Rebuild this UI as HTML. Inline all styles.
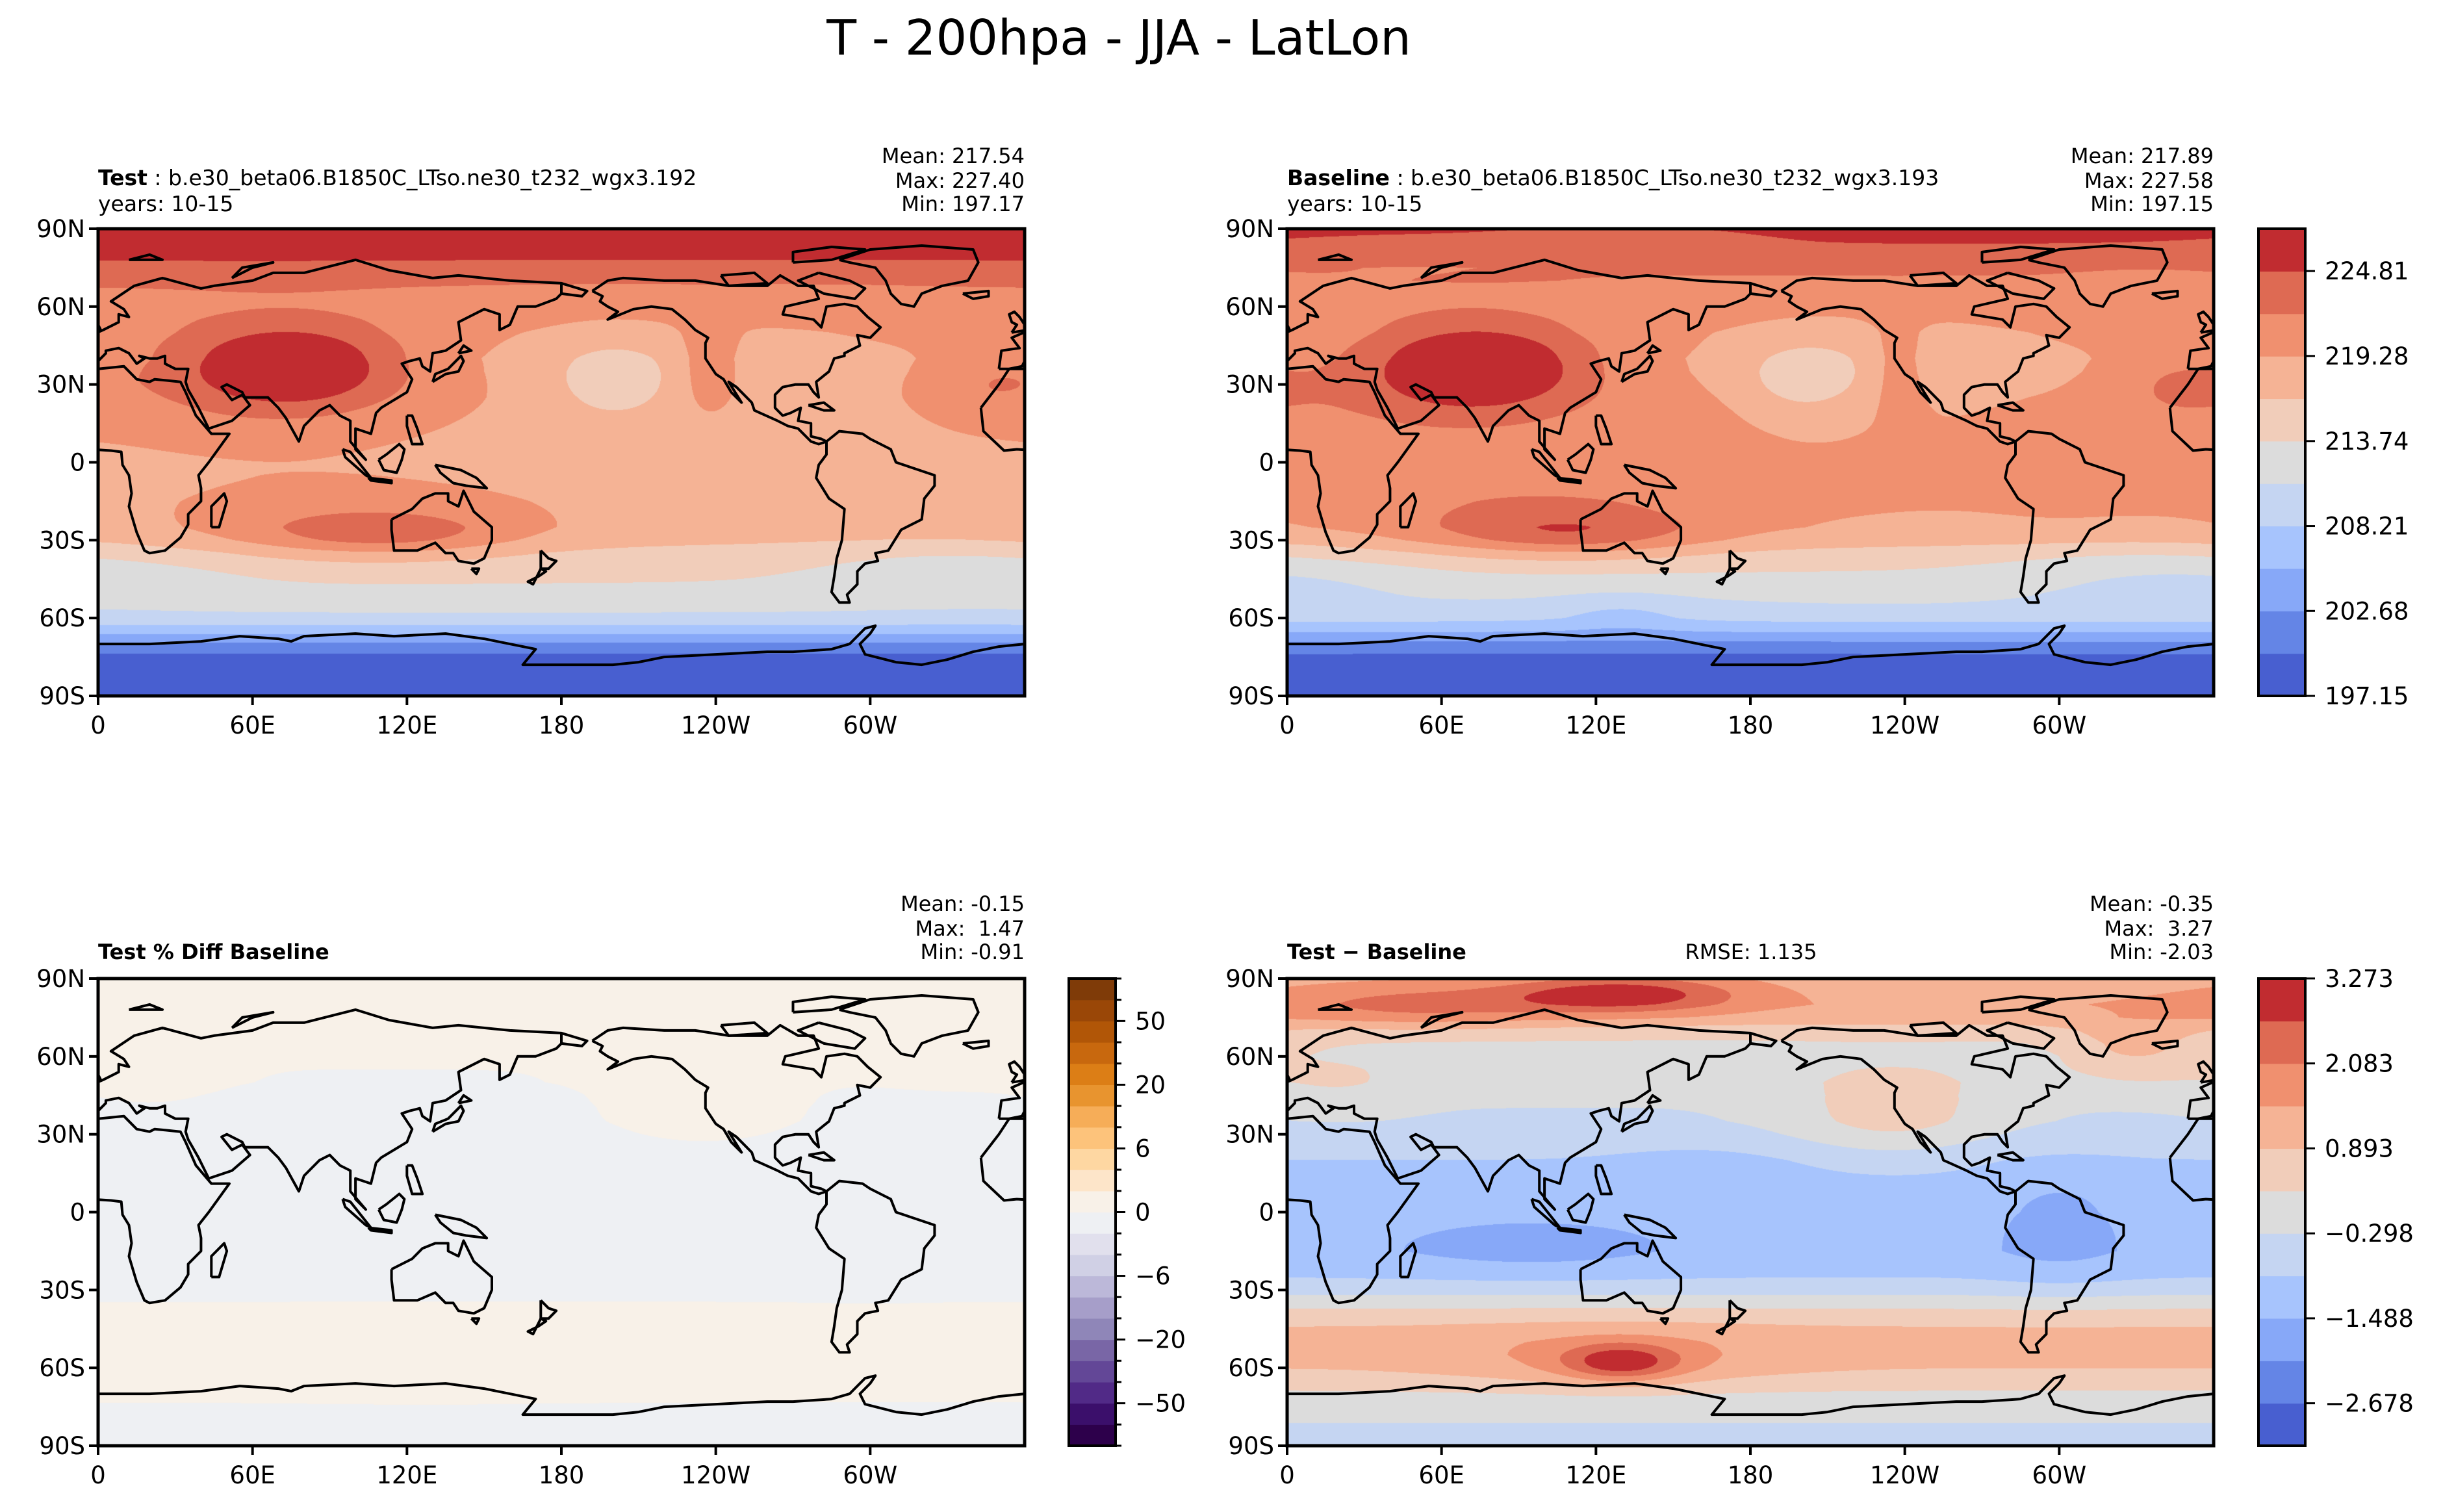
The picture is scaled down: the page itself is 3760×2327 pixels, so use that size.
<!DOCTYPE html>
<html><head><meta charset="utf-8"><style>
html,body{margin:0;padding:0;background:#fff;}
#wrap{position:relative;width:3760px;height:2327px;overflow:hidden;font-family:"DejaVu Sans","Liberation Sans",sans-serif;}
canvas{position:absolute;}
svg{position:absolute;left:0;top:0;}
</style></head><body>
<div id="wrap">
<canvas id="c0" width="1426" height="719" style="left:151px;top:352px"></canvas>
<canvas id="c1" width="1426" height="719" style="left:1981px;top:352px"></canvas>
<canvas id="c2" width="1426" height="719" style="left:151px;top:1506px"></canvas>
<canvas id="c3" width="1426" height="719" style="left:1981px;top:1506px"></canvas>
<svg id="ov" width="3760" height="2327" xmlns="http://www.w3.org/2000/svg">
<text x="1722" y="84" font-size="75" text-anchor="middle">T - 200hpa - JJA - LatLon</text>
<text x="151" y="285" font-size="33"><tspan font-weight="bold">Test</tspan> : b.e30_beta06.B1850C_LTso.ne30_t232_wgx3.192</text>
<text x="151" y="325" font-size="33">years: 10-15</text>
<text x="1577" y="251" font-size="32" text-anchor="end">Mean: 217.54</text>
<text x="1577" y="289" font-size="32" text-anchor="end">Max: 227.40</text>
<text x="1577" y="325" font-size="32" text-anchor="end">Min: 197.17</text>
<text x="1981" y="285" font-size="33"><tspan font-weight="bold">Baseline</tspan> : b.e30_beta06.B1850C_LTso.ne30_t232_wgx3.193</text>
<text x="1981" y="325" font-size="33">years: 10-15</text>
<text x="3407" y="251" font-size="32" text-anchor="end">Mean: 217.89</text>
<text x="3407" y="289" font-size="32" text-anchor="end">Max: 227.58</text>
<text x="3407" y="325" font-size="32" text-anchor="end">Min: 197.15</text>
<text x="151" y="1476" font-size="32" font-weight="bold">Test % Diff Baseline</text>
<text x="1577" y="1402" font-size="32" text-anchor="end">Mean: -0.15</text>
<text x="1577" y="1440" font-size="32" text-anchor="end" xml:space="preserve">Max:  1.47</text>
<text x="1577" y="1476" font-size="32" text-anchor="end">Min: -0.91</text>
<text x="1981" y="1476" font-size="32" font-weight="bold">Test − Baseline</text>
<text x="2695" y="1476" font-size="32" text-anchor="middle">RMSE: 1.135</text>
<text x="3407" y="1402" font-size="32" text-anchor="end">Mean: -0.35</text>
<text x="3407" y="1440" font-size="32" text-anchor="end" xml:space="preserve">Max:  3.27</text>
<text x="3407" y="1476" font-size="32" text-anchor="end">Min: -2.03</text>
</svg>
</div>
<script>
// ---- data ----
const lats = [90,85,80,75,70,65,60,55,50,45,40,35,30,25,20,15,10,5,0,-5,-10,-15,-20,-25,-30,-35,-40,-45,-50,-55,-60,-65,-70,-75,-80,-85,-90];
const testZonal = [226.6,226.2,225.6,223.6,222.4,221,220,219.6,219,218.6,218.2,218.2,218.3,218.4,218.4,218.4,218.4,218.4,218.4,218.4,218.3,218.2,218,217.8,217,215.6,214.8,214,213,212,210.2,206.5,202.2,199.2,198.6,198.2,198];
const testBlobs = [[75,37,7.5,28,11],[60,33,3.5,55,18],[200,32,-3.6,17,11],[237,36,2.6,8,12],[110,-28,4.2,35,6],[100,-22,2.6,55,10],[345,30,2.3,18,10],[330,-42,-2.2,40,8],[20,-45,-1,30,6],[330,55,1.2,25,6]];
const diffZonal = [1.2,1.3,1.4,1.2,0.6,0.2,0.0,0.0,-0.05,-0.2,-0.3,-0.35,-0.5,-0.7,-0.9,-1.0,-1.1,-1.1,-1.1,-1.15,-1.2,-1.25,-1.1,-0.9,-0.5,0.05,0.6,0.95,1.1,1.05,0.9,0.6,0.2,-0.1,-0.25,-0.45,-0.6];
const diffBlobs = [[130,84,1.8,32,5],[50,80,0.9,40,6],[235,38,0.9,28,12],[330,62,0.9,20,8],[130,-58,1.7,16,5],[125,-56,0.6,45,8],[95,-12,-0.55,40,8],[300,-5,-0.55,20,15],[160,15,-0.3,25,8],[20,50,0.4,20,8]];
const tLevelMin = 197.15, tLevelStep = 2.765;
const dLevelMin = -3.273, dLevelStep = 0.595;
const coolwarm = ['#485fd0','#6485e6','#87a8f8','#a7c4fd','#c5d5f2','#dcdcdc','#f1cdba','#f5b395','#f0906f','#de6a53','#c12c30'];
const puor = ['#2d004b','#3b0f6b','#512a87','#634797','#7966a6','#8f86b8','#a69ec9','#bcb8d9','#d0d0e5','#e1e0ed','#eef0f3','#f8f1e8','#fde5c9','#fed7a2','#fdc37b','#f6ad58','#e8942f','#dc7e16','#c8680e','#b15607','#9a4707','#7f3b08'];
const pctBounds = [-70,-60,-50,-40,-30,-20,-15,-10,-6,-4,-2,0,2,4,6,10,15,20,30,40,50,60,70];
const tTickLabels = ['224.81','219.28','213.74','208.21','202.68','197.15'];
const tTickValues = [224.81,219.28,213.74,208.21,202.68,197.15];
const dTickLabels = ['3.273','2.083','0.893','\u22120.298','\u22121.488','\u22122.678'];
const dTickValues = [3.273,2.083,0.893,-0.298,-1.488,-2.678];
const pctTickLabels = ['50','20','6','0','\u22126','\u221220','\u221250'];
const pctTickValues = [50,20,6,0,-6,-20,-50];
const latTickLabels = ['90N','60N','30N','0','30S','60S','90S'];
const latTickValues = [90,60,30,0,-30,-60,-90];
const lonTickLabels = ['0','60E','120E','180','120W','60W'];
const lonTickValues = [0,60,120,180,240,300];
const coast = {
africa:[[-17,21],[-16,12],[-8,4.5],[-3,5],[5,4.5],[9,4],[9.5,-1],[12,-5],[13,-12],[12,-17],[15,-27],[18,-34],[20,-35],[26,-34],[32,-29],[35,-24],[35,-20],[40,-15],[40,-10],[39,-5],[43,0],[51,11],[44,11],[38,18],[34,27],[32,31],[22,32],[20,31],[15,32],[10,37],[0,36],[-6,36],[-10,30],[-17,21]],
madagascar:[[44,-25],[47,-25],[50,-15],[49,-12],[44,-17],[44,-25]],
eurasia:[[-10,36],[-9,43],[-2,44],[-5,48],[2,51],[8,54],[8,57],[12,56],[10,59],[5,62],[14,68],[25,71],[40,67],[45,68],[60,70],[68,73],[80,73],[100,78],[113,74],[130,71],[140,72],[160,70],[180,69],[180,65],[178,63],[170,60],[163,60],[160,53],[156,51],[156,57],[150,59],[140,54],[141,47],[135,43],[130,42],[129,35],[126,37],[125,40],[121,39],[118,38],[122,32],[120,27],[110,21],[108,19],[106,11],[100,13],[100,5],[104,1],[98,8],[98,16],[94,18],[90,22],[86,20],[80,14],[78,8],[73,17],[70,21],[66,25],[57,25],[56,27],[50,30],[48,29],[52,24],[56,26],[59,22],[52,16],[43,13],[39,21],[35,28],[34,31],[35,36],[30,36],[26,38],[26,41],[23,40],[20,40],[16,41],[18,40],[15,38],[12,42],[8,44],[3,43],[3,42],[0,39],[-1,37],[-6,36],[-10,36]],
chukotka:[[-180,69],[-170,66],[-172,64],[-180,65]],
britain:[[-5,50],[1,51],[0,53],[-2,56],[-4,58],[-6,57],[-5,54],[-3,53],[-5,50]],
iceland:[[-24,65],[-14,66],[-14,64],[-20,63],[-24,65]],
japan:[[130,31],[135,34],[140,35],[142,39],[141,41],[140,40],[136,36],[131,34],[130,31]],
hokkaido:[[140,42],[145,43],[142,45],[140,42]],
sumatra:[[95,5],[98,4],[106,-6],[104,-5],[96,2],[95,5]],
borneo:[[109,1],[112,3],[117,7],[119,5],[118,1],[116,-4],[111,-3],[109,1]],
java:[[105,-6],[114,-7],[114,-8],[106,-7],[105,-6]],
newguinea:[[131,-1],[141,-3],[147,-6],[151,-10],[143,-9],[138,-8],[133,-4],[131,-1]],
philippines:[[120,18],[122,18],[124,13],[126,7],[122,7],[120,14],[120,18]],
australia:[[114,-22],[122,-18],[126,-14],[131,-12],[136,-12],[136,-15],[140,-17],[142,-11],[146,-19],[153,-25],[153,-30],[150,-37],[146,-39],[140,-38],[138,-35],[135,-35],[131,-31],[124,-34],[115,-34],[114,-26],[114,-22]],
tasmania:[[145,-41],[148,-41],[147,-43],[145,-41]],
nzn:[[172,-34],[175,-37],[178,-38],[175,-41],[172,-41],[172,-34]],
nzs:[[172,-41],[174,-42],[171,-44],[167,-46],[169,-47],[172,-41]],
namerica:[[-168,66],[-162,70],[-156,71],[-140,70],[-128,70],[-115,68],[-100,68],[-95,72],[-88,68],[-82,68],[-80,63],[-93,60],[-94,57],[-88,56],[-82,55],[-79,52],[-77,60],[-70,61],[-65,60],[-61,56],[-56,52],[-60,48],[-65,49],[-64,45],[-70,42],[-70,41],[-74,40],[-76,35],[-81,31],[-80,25],[-82,27],[-84,30],[-89,30],[-94,29],[-97,26],[-97,21],[-94,18],[-91,19],[-87,21],[-88,16],[-83,15],[-83,10],[-79,9],[-77,8],[-80,7],[-83,8],[-86,11],[-88,13],[-92,14],[-96,16],[-105,20],[-106,23],[-112,29],[-115,31],[-110,23],[-114,27],[-117,32],[-120,34],[-124,40],[-124,46],[-123,48],[-128,51],[-132,55],[-137,59],[-145,60],[-152,59],[-157,57],[-162,55],[-158,58],[-162,60],[-165,62],[-164,64],[-168,66]],
samerica:[[-77,8],[-72,12],[-63,11],[-60,9],[-52,5],[-50,0],[-44,-2],[-35,-5],[-35,-9],[-39,-14],[-40,-22],[-48,-26],[-53,-34],[-58,-35],[-57,-38],[-62,-39],[-65,-42],[-65,-47],[-69,-51],[-68,-54],[-72,-54],[-75,-50],[-74,-44],[-73,-37],[-71,-30],[-70,-18],[-76,-14],[-81,-6],[-80,-1],[-77,3],[-77,8]],
greenland:[[-72,78],[-60,82],[-40,83.5],[-20,82],[-18,77],[-22,70],[-32,68],[-40,65],[-43,60],[-48,61],[-52,65],[-54,70],[-58,75],[-68,77],[-72,78]],
baffin:[[-80,73],[-68,70],[-62,67],[-66,63],[-72,64],[-78,65],[-88,70],[-80,73]],
victoria:[[-118,72],[-105,73],[-100,69],[-115,68],[-118,72]],
ellesmere:[[-90,77],[-75,78],[-62,82],[-75,83],[-90,81],[-90,77]],
cuba:[[-84,22],[-78,23],[-74,20],[-78,20],[-84,22]],
novaya:[[52,71],[56,75],[68,77],[60,75],[52,71]],
svalbard:[[12,78],[20,80],[25,78],[12,78]],
antarctica:[[-180,-78],[-160,-78],[-150,-77],[-140,-75],[-120,-74],[-100,-73],[-90,-73],[-75,-72],[-68,-70],[-62,-64],[-58,-63],[-60,-66],[-64,-70],[-62,-74],[-50,-77],[-40,-78],[-30,-76],[-20,-73],[-10,-71],[0,-70],[20,-70],[40,-69],[55,-67],[70,-68],[75,-69],[80,-67],[100,-66],[115,-67],[135,-66],[150,-68],[165,-71],[170,-72],[165,-78],[180,-78]]
};
// ---- rendering ----
const W=1426,H=719;
const panels=[{x:151,y:352,name:'test'},{x:1981,y:352,name:'baseline'},{x:151,y:1506,name:'pct'},{x:1981,y:1506,name:'diff'}];
function zonalAt(arr,lat){
  for(let i=0;i<lats.length-1;i++){
    if(lat<=lats[i]&&lat>=lats[i+1]){const t=(lats[i]-lat)/(lats[i]-lats[i+1]);return arr[i]*(1-t)+arr[i+1]*t;}
  }
  return arr[arr.length-1];
}
function blobSum(blobs,lon,lat){
  let s=0;
  for(const b of blobs){let dl=lon-b[0];if(dl>180)dl-=360;if(dl<-180)dl+=360;const dy=lat-b[1];
    s+=b[2]*Math.exp(-(dl*dl)/(2*b[3]*b[3])-(dy*dy)/(2*b[4]*b[4]));}
  return s;
}
function hex(c){return [parseInt(c.substr(1,2),16),parseInt(c.substr(3,2),16),parseInt(c.substr(5,2),16)];}
const cw=coolwarm.map(hex), po=puor.map(hex);
const ctxs=[0,1,2,3].map(i=>document.getElementById('c'+i).getContext('2d'));
const imgs=ctxs.map(c=>c.createImageData(W,H));
for(let py=0;py<H;py++){
  const lat=90-(py+0.5)/H*180;
  const tz=zonalAt(testZonal,lat), dz=zonalAt(diffZonal,lat);
  for(let px=0;px<W;px++){
    const lon=(px+0.5)/W*360;
    const t=tz+blobSum(testBlobs,lon,lat);
    const d=dz+blobSum(diffBlobs,lon,lat);
    const b=t-d; const p=d/b*100;
    const ti=Math.max(0,Math.min(10,Math.floor((t-tLevelMin)/tLevelStep)));
    const bi=Math.max(0,Math.min(10,Math.floor((b-tLevelMin)/tLevelStep)));
    const di=Math.max(0,Math.min(10,Math.floor((d-dLevelMin)/dLevelStep)));
    let pi=0;for(let k=0;k<pctBounds.length-1;k++){if(p>=pctBounds[k])pi=k;}
    const o=(py*W+px)*4;
    const cs=[cw[ti],cw[bi],po[pi],cw[di]];
    for(let k=0;k<4;k++){const d2=imgs[k].data;d2[o]=cs[k][0];d2[o+1]=cs[k][1];d2[o+2]=cs[k][2];d2[o+3]=255;}
  }
}
ctxs.forEach((c,i)=>c.putImageData(imgs[i],0,0));
const NS='http://www.w3.org/2000/svg';
const svg=document.getElementById('ov');
function mk(tag,attrs,parent){const e=document.createElementNS(NS,tag);for(const k in attrs)e.setAttribute(k,attrs[k]);(parent||svg).appendChild(e);return e;}
const defs=mk('defs',{});
panels.forEach((P,pi)=>{
  const cp=mk('clipPath',{id:'clip'+pi},defs);mk('rect',{x:P.x,y:P.y,width:W,height:H},cp);
  const g=mk('g',{'clip-path':'url(#clip'+pi+')'});
  
  
  const xOf=lon=>P.x+lon/360*W, yOf=lat=>P.y+(90-lat)/180*H;
  for(const key in coast){
    for(const sh of [0,360]){
      const pts=coast[key].map(q=>xOf(q[0]+sh).toFixed(1)+','+yOf(q[1]).toFixed(1)).join(' ');
      const pl=mk('polyline',{points:pts,fill:'none',stroke:'#000','stroke-width':4,'stroke-linejoin':'round'},g);
      
      
    }
  }
  const fr=mk('rect',{x:P.x,y:P.y,width:W,height:H,fill:'none',stroke:'#000','stroke-width':5});
  
  
  latTickValues.forEach((v,i)=>{
    const y=yOf(v);
    mk('line',{x1:P.x-14,x2:P.x,y1:y,y2:y,stroke:'#000','stroke-width':4});
    const t=mk('text',{x:P.x-20,y:y+13,'font-size':37,'text-anchor':'end'});t.textContent=latTickLabels[i];
    
    
  });
  lonTickValues.forEach((v,i)=>{
    const x=xOf(v);
    mk('line',{x1:x,x2:x,y1:P.y+H,y2:P.y+H+14,stroke:'#000','stroke-width':4});
    const t=mk('text',{x:x,y:P.y+H+58,'font-size':37,'text-anchor':'middle'});t.textContent=lonTickLabels[i];
    
    
  });
});
// colorbars
function colorbar(x,y,w,h,colors,name){
  const n=colors.length,sh=h/n;
  colors.forEach((c,i)=>{
    const r=mk('rect',{x:x,y:y+h-(i+1)*sh,width:w,height:sh+0.6,fill:c});
    
    
  });
  const f=mk('rect',{x:x,y:y,width:w,height:h,fill:'none',stroke:'#000','stroke-width':4});
  
  
}
function cbTick(x,y,label,name,major){
  mk('line',{x1:x,x2:x+(major?15:9),y1:y,y2:y,stroke:'#000','stroke-width':3});
  if(label!==null){const t=mk('text',{x:x+30,y:y+13,'font-size':37});t.textContent=label;
    
    }
}
const tMax=tLevelMin+11*tLevelStep;
colorbar(3476,352,72,719,coolwarm,'temp-colorbar');
tTickValues.forEach((v,i)=>cbTick(3548,352+719-(v-tLevelMin)/(tMax-tLevelMin)*719,tTickLabels[i],'temp-colorbar',true));
colorbar(3476,1506,72,719,coolwarm,'diff-colorbar');
dTickValues.forEach((v,i)=>cbTick(3548,1506+719-(v-dLevelMin)/(11*dLevelStep)*719,dTickLabels[i],'diff-colorbar',true));
colorbar(1645,1506,72,719,puor,'pct-colorbar');
pctBounds.forEach((v,i)=>{const y=1506+719-i/(pctBounds.length-1)*719;const k=pctTickValues.indexOf(v);cbTick(1717,y,k>=0?pctTickLabels[k]:null,'pct-colorbar',k>=0);});
</script>
</body></html>
